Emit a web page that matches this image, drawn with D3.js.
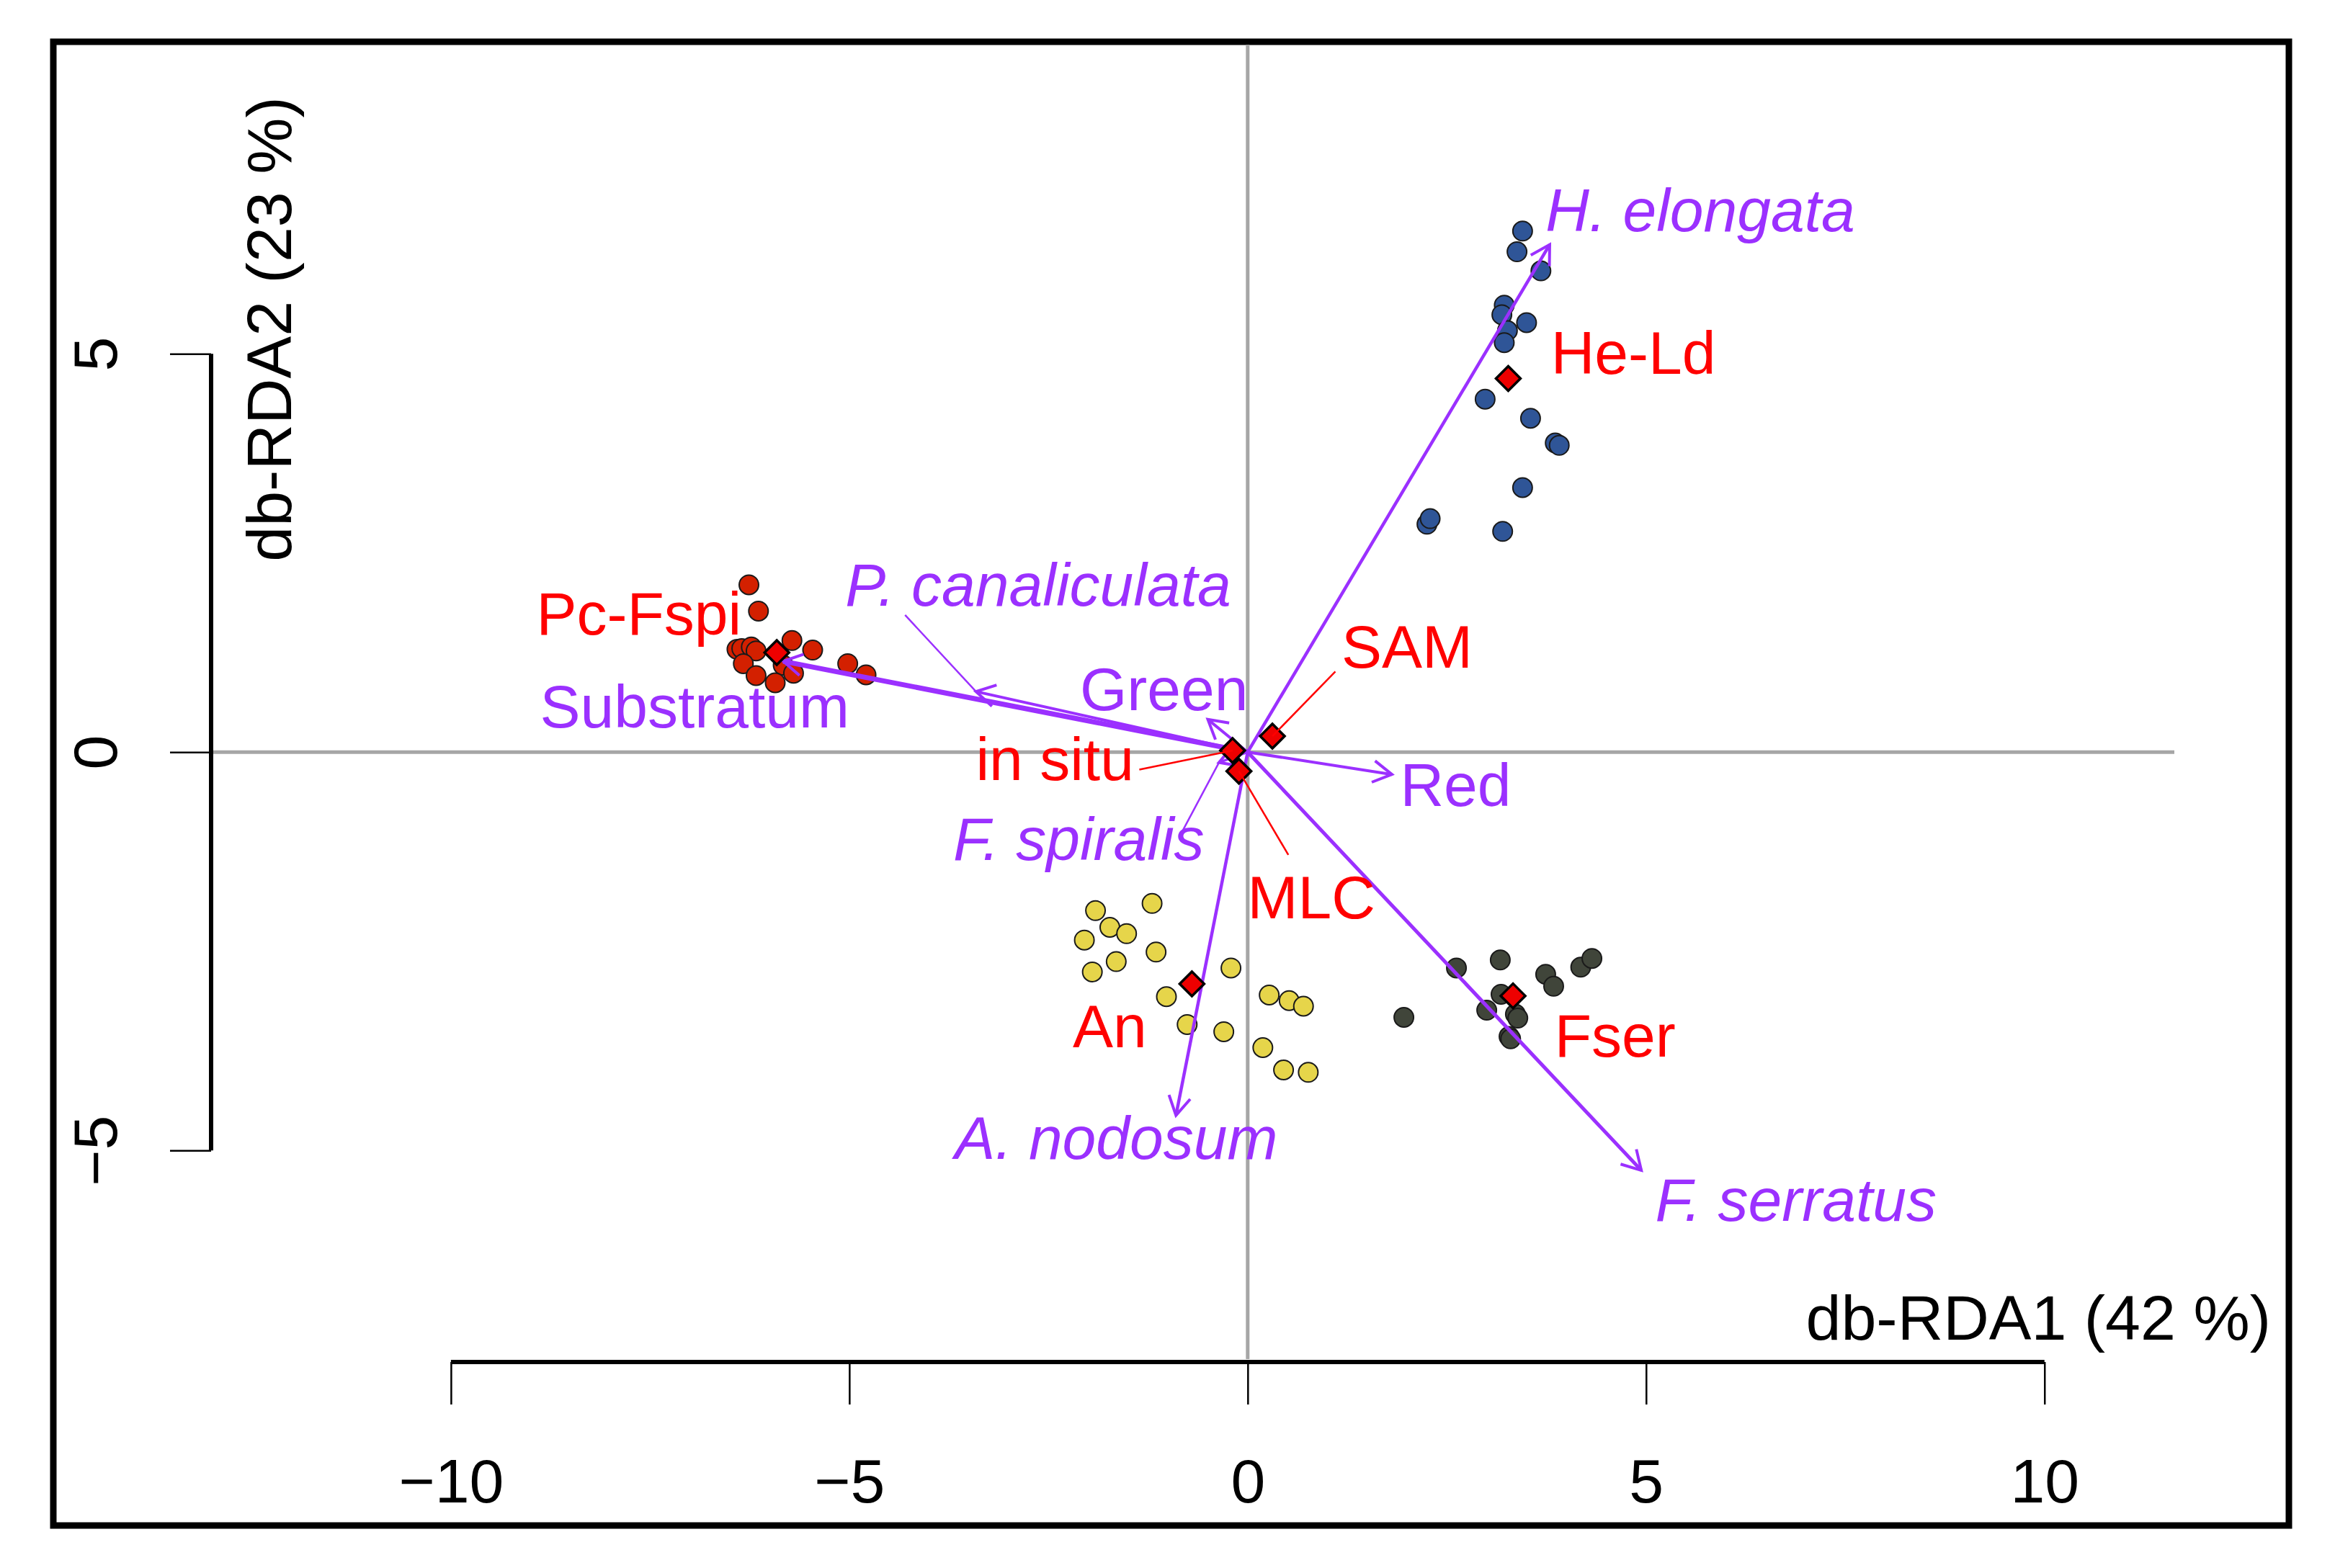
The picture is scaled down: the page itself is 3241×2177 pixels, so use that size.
<!DOCTYPE html>
<html>
<head>
<meta charset="utf-8">
<script src="https://cdn.jsdelivr.net/npm/d3@7"></script>
<style>
body { margin: 0; background: #fff; }
text { font-family: "Liberation Sans", Arial, sans-serif; }
</style>
</head>
<body>
<svg id="fig" width="3241" height="2177"></svg>
<script>
// site scores (db-RDA1, db-RDA2) per group
var sitesHeLd = [[3.45, 6.54], [3.38, 6.28], [3.68, 6.04], [3.22, 5.61], [3.19, 5.49], [3.50, 5.39],
    [3.26, 5.29], [3.22, 5.14], [2.98, 4.43], [3.55, 4.19], [3.86, 3.88], [3.91, 3.85],
    [3.45, 3.32], [2.25, 2.86], [2.29, 2.93], [3.20, 2.77]];
var sitesPcFspi = [[-6.26, 2.10], [-6.14, 1.77], [-5.72, 1.40], [-5.46, 1.28], [-6.41, 1.29], [-6.35, 1.30],
    [-6.23, 1.32], [-6.17, 1.27], [-6.33, 1.11], [-5.83, 1.09], [-6.17, 0.96], [-5.93, 0.87],
    [-5.70, 0.99], [-5.02, 1.11], [-4.79, 0.97]];
var sitesAn = [[-1.91, -1.99], [-1.20, -1.90], [-1.73, -2.20], [-1.52, -2.28], [-2.05, -2.36], [-1.15, -2.51],
    [-1.65, -2.63], [-1.95, -2.76], [-0.21, -2.71], [-1.02, -3.07], [0.27, -3.05], [0.52, -3.12],
    [0.70, -3.19], [-0.76, -3.42], [-0.30, -3.51], [0.19, -3.71], [0.45, -3.99], [0.76, -4.02]];
var sitesFser = [[2.62, -2.71], [3.17, -2.61], [3.74, -2.79], [3.84, -2.94], [4.18, -2.70], [4.32, -2.59],
    [3.18, -3.04], [3.00, -3.24], [3.36, -3.29], [3.39, -3.34], [3.28, -3.57], [3.30, -3.60],
    [1.96, -3.33]];
var groupNames = ["He-Ld", "Pc-Fspi", "An", "Fser"];
var groupSites = [sitesHeLd, sitesPcFspi, sitesAn, sitesFser];

// centroids of groups and sampling methods
var centroidNames = ["He-Ld", "Pc-Fspi", "An", "Fser", "in situ", "MLC", "SAM"];
var centroidX = [3.27, -5.91, -0.70, 3.33, -0.19, -0.11, 0.31];
var centroidY = [4.69, 1.25, -2.91, -3.06, 0.02, -0.24, 0.20];
var centroidLabelX = [4.84, -7.64, -1.73, 4.61, -2.42, 0.80, 2.00];
var centroidLabelY = [5.02, 1.75, -3.43, -3.55, -0.08, -1.81, 1.33];

// fitted vectors (species and variables)
var vectorNames = ["H. elongata", "P. canaliculata", "F. spiralis", "A. nodosum", "F. serratus", "Substratum", "Green", "Red"];
var vectorX = [3.79, -3.41, -0.36, -0.90, 4.94, -5.83, -0.50, 1.81];
var vectorY = [6.37, 0.76, -0.13, -4.56, -5.25, 1.14, 0.41, -0.28];
var vectorLabelX = [5.68, -2.63, -2.12, -1.65, 6.88, -6.94, -1.05, 2.61];
var vectorLabelY = [6.81, 2.11, -1.08, -4.83, -5.61, 0.58, 0.80, -0.40];
var speciesNames = ["H. elongata", "P. canaliculata", "F. spiralis", "A. nodosum", "F. serratus"];

// leader lines from a centroid / vector tip to its label
var leaderNames = ["in situ", "MLC", "SAM", "P. canaliculata", "F. spiralis"];
var leaderEndX = [-1.36, 0.51, 1.10, -4.30, -0.85];
var leaderEndY = [-0.22, -1.29, 1.01, 1.72, -1.05];

var xTicks = [-10, -5, 0, 5, 10];
var yTicks = [-5, 0, 5];
var xTitle = "db-RDA1 (42 %)";
var yTitle = "db-RDA2 (23 %)";

var purple = "#9B30FF";
var groupFill = {"He-Ld": "#2F5597", "Pc-Fspi": "#D32000", "An": "#E6D54A", "Fser": "#40453A"};
var arrowWidth = {"H. elongata": 4.5, "P. canaliculata": 4, "F. spiralis": 3.5, "A. nodosum": 4.5,
    "F. serratus": 5, "Substratum": 7, "Green": 4, "Red": 4};

var fig = d3.select("#fig");

var x = d3.scaleLinear().domain([-13.01, 11.63]).range([293, 3018]);
var y = d3.scaleLinear().domain([-7.62, 8.88]).range([1887, 62]);

function fmt(d) {
    return d < 0 ? "\u2212" + (-d) : "" + d;
}

// outer frame
fig.append("rect")
    .attr("x", 74).attr("y", 58)
    .attr("width", 3103).attr("height", 2060)
    .attr("fill", "none").attr("stroke", "#000").attr("stroke-width", 9);

// zero lines
fig.append("line")
    .attr("x1", x.range()[0]).attr("x2", x.range()[1])
    .attr("y1", y(0)).attr("y2", y(0))
    .attr("stroke", "#A6A6A6").attr("stroke-width", 5);
fig.append("line")
    .attr("x1", x(0)).attr("x2", x(0))
    .attr("y1", y.range()[1]).attr("y2", y.range()[0])
    .attr("stroke", "#A6A6A6").attr("stroke-width", 5);

// x axis
var gx = fig.append("g")
    .attr("transform", "translate(0,1891)")
    .call(d3.axisBottom(x).tickValues(xTicks).tickSize(59).tickFormat(fmt));
gx.select(".domain").remove();
gx.append("line")
    .attr("x1", x(xTicks[0])).attr("x2", x(xTicks[xTicks.length - 1]))
    .attr("stroke", "#000").attr("stroke-width", 6);
gx.selectAll(".tick line").attr("stroke", "#000").attr("stroke-width", 2.5);
gx.selectAll(".tick text")
    .attr("y", 195).attr("dy", 0)
    .attr("fill", "#000")
    .style("font-size", "86px")
    .style("font-family", "'Liberation Sans', Arial, sans-serif");

// y axis
var gy = fig.append("g")
    .attr("transform", "translate(293,0)")
    .call(d3.axisLeft(y).tickValues(yTicks).tickSize(57).tickFormat(fmt));
gy.select(".domain").remove();
gy.append("line")
    .attr("y1", y(yTicks[0])).attr("y2", y(yTicks[yTicks.length - 1]))
    .attr("stroke", "#000").attr("stroke-width", 6);
gy.selectAll(".tick line").attr("stroke", "#000").attr("stroke-width", 2.5);
gy.selectAll(".tick text")
    .attr("x", null).attr("dy", "0.36em")
    .attr("text-anchor", "middle")
    .attr("transform", "translate(-162,0) rotate(-90)")
    .attr("fill", "#000")
    .style("font-size", "86px")
    .style("font-family", "'Liberation Sans', Arial, sans-serif");

// axis titles
fig.append("text")
    .attr("x", 3152).attr("y", 1860)
    .attr("text-anchor", "end")
    .style("font-size", "88px")
    .text(xTitle);
fig.append("text")
    .attr("transform", "translate(372,457) rotate(-90)")
    .attr("dy", "0.36em")
    .attr("text-anchor", "middle")
    .style("font-size", "88px")
    .text(yTitle);

// site points
groupNames.forEach(function (g, i) {
    fig.append("g")
        .selectAll("circle")
        .data(groupSites[i])
        .enter()
        .append("circle")
        .attr("cx", function (d) { return x(d[0]); })
        .attr("cy", function (d) { return y(d[1]); })
        .attr("r", 13.5)
        .attr("fill", groupFill[g])
        .attr("stroke", "#1a1a1a")
        .attr("stroke-width", 2);
});

// vectors with open arrow heads
var vectors = vectorNames.map(function (n, i) {
    return {name: n, x: vectorX[i], y: vectorY[i], lx: vectorLabelX[i], ly: vectorLabelY[i]};
});
var va = fig.append("g").selectAll("g").data(vectors).enter().append("g");
va.append("line")
    .attr("x1", x(0)).attr("y1", y(0))
    .attr("x2", function (d) { return x(d.x); })
    .attr("y2", function (d) { return y(d.y); })
    .attr("stroke", purple)
    .attr("stroke-width", function (d) { return arrowWidth[d.name]; });
va.append("path")
    .attr("d", function (d) {
        var x1 = x(d.x), y1 = y(d.y);
        var a = Math.atan2(y1 - y(0), x1 - x(0));
        var L = 30, t = Math.PI / 6;
        return "M" + (x1 - L * Math.cos(a - t)) + "," + (y1 - L * Math.sin(a - t)) +
            "L" + x1 + "," + y1 +
            "L" + (x1 - L * Math.cos(a + t)) + "," + (y1 - L * Math.sin(a + t));
    })
    .attr("fill", "none")
    .attr("stroke", purple)
    .attr("stroke-width", 4);

// centroid diamonds
var cents = centroidNames.map(function (n, i) {
    return {name: n, x: centroidX[i], y: centroidY[i], lx: centroidLabelX[i], ly: centroidLabelY[i]};
});
fig.append("g").selectAll("path").data(cents).enter().append("path")
    .attr("transform", function (d) { return "translate(" + x(d.x) + "," + y(d.y) + ")"; })
    .attr("d", "M0,-17L17,0L0,17L-17,0Z")
    .attr("fill", "#EE0000")
    .attr("stroke", "#000")
    .attr("stroke-width", 3.5);

// leader lines
leaderNames.forEach(function (n, i) {
    var ci = centroidNames.indexOf(n);
    var vi = vectorNames.indexOf(n);
    var sx = ci >= 0 ? centroidX[ci] : vectorX[vi];
    var sy = ci >= 0 ? centroidY[ci] : vectorY[vi];
    fig.append("line")
        .attr("x1", x(sx)).attr("y1", y(sy))
        .attr("x2", x(leaderEndX[i])).attr("y2", y(leaderEndY[i]))
        .attr("stroke", ci >= 0 ? "#FF0000" : purple)
        .attr("stroke-width", 2.5);
});

// labels
fig.append("g").selectAll("text").data(cents).enter().append("text")
    .attr("x", function (d) { return x(d.lx); })
    .attr("y", function (d) { return y(d.ly); })
    .attr("dy", "0.36em")
    .attr("text-anchor", "middle")
    .attr("fill", "#FF0000")
    .style("font-size", "84px")
    .text(function (d) { return d.name; });
fig.append("g").selectAll("text").data(vectors).enter().append("text")
    .attr("x", function (d) { return x(d.lx); })
    .attr("y", function (d) { return y(d.ly); })
    .attr("dy", "0.36em")
    .attr("text-anchor", "middle")
    .attr("fill", purple)
    .style("font-size", "84px")
    .style("font-style", function (d) { return speciesNames.indexOf(d.name) >= 0 ? "italic" : "normal"; })
    .text(function (d) { return d.name; });
</script>
</body>
</html>
